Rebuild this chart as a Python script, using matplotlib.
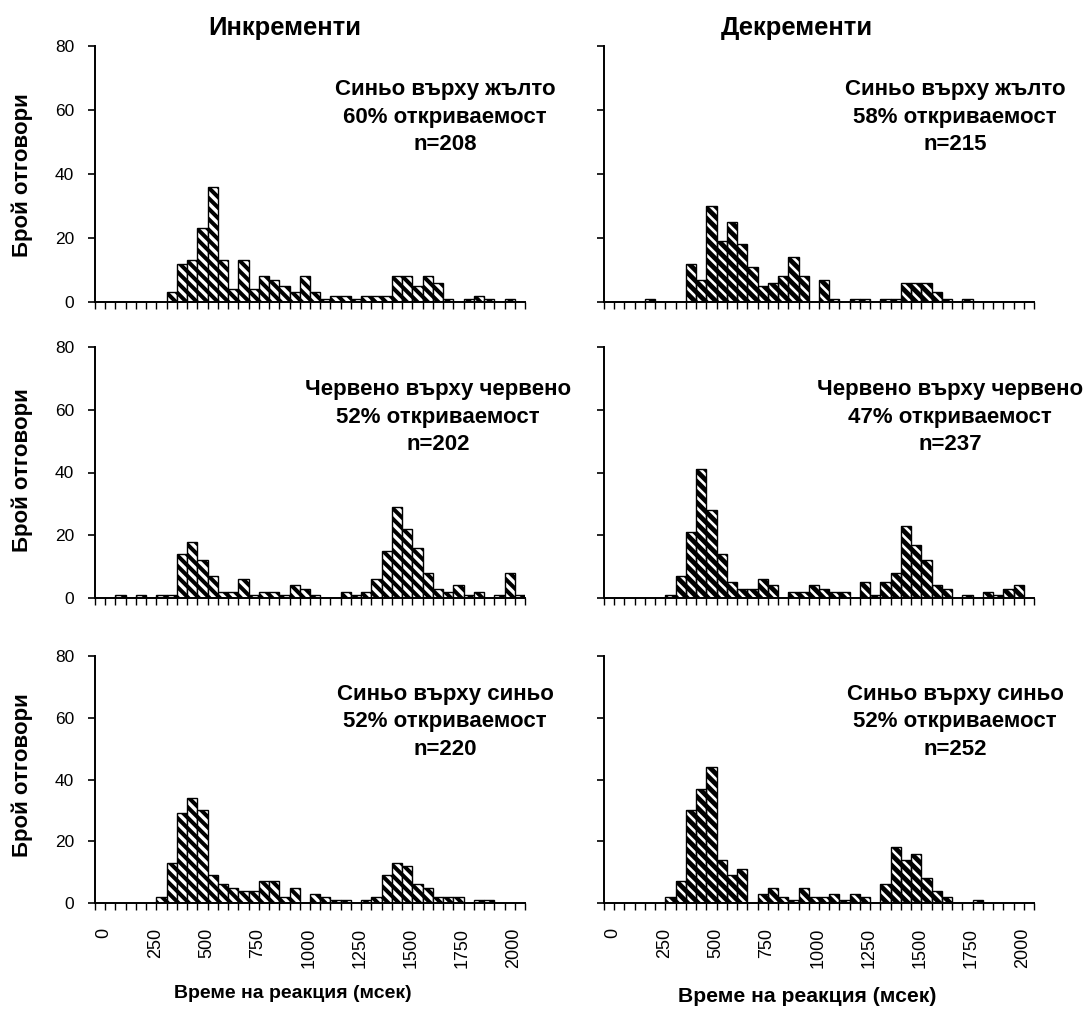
import matplotlib.pyplot as plt
import matplotlib.transforms as mtransforms
import numpy as np

DPI = 126
S = 100 / DPI  # sizes below are written for 100 dpi, scaled to the real dpi

plt.rcParams['font.family'] = ['Liberation Sans', 'DejaVu Sans']
plt.rcParams['hatch.linewidth'] = 2.3

# bins of 50 ms: 0, 50, ..., 2000, 2050 (42 categories)
bin_starts = list(range(0, 2051, 50))
tick_labels = ['0', '250', '500', '750', '1000', '1250', '1500', '1750', '2000']

# Инкременти
inc_blue_yellow = [0, 0, 0, 0, 0, 0, 0, 3, 12, 13, 23, 36, 13, 4, 13, 4, 8, 7, 5, 3, 8,
                   3, 1, 2, 2, 1, 2, 2, 2, 8, 8, 5, 8, 6, 1, 0, 1, 2, 1, 0, 1, 0]
inc_red_red = [0, 0, 1, 0, 1, 0, 1, 1, 14, 18, 12, 7, 2, 2, 6, 1, 2, 2, 1, 4, 3,
               1, 0, 0, 2, 1, 2, 6, 15, 29, 22, 16, 8, 3, 2, 4, 1, 2, 0, 1, 8, 1]
inc_blue_blue = [0, 0, 0, 0, 0, 0, 2, 13, 29, 34, 30, 9, 6, 5, 4, 4, 7, 7, 2, 5, 0,
                 3, 2, 1, 1, 0, 1, 2, 9, 13, 12, 6, 5, 2, 2, 2, 0, 1, 1, 0, 0, 0]

# Декременти
dec_blue_yellow = [0, 0, 0, 0, 1, 0, 0, 0, 12, 7, 30, 19, 25, 18, 11, 5, 6, 8, 14, 8, 0,
                   7, 1, 0, 1, 1, 0, 1, 1, 6, 6, 6, 3, 1, 0, 1, 0, 0, 0, 0, 0, 0]
dec_red_red = [0, 0, 0, 0, 0, 0, 1, 7, 21, 41, 28, 14, 5, 3, 3, 6, 4, 0, 2, 2, 4,
               3, 2, 2, 0, 5, 1, 5, 8, 23, 17, 12, 4, 3, 0, 1, 0, 2, 1, 3, 4, 0]
dec_blue_blue = [0, 0, 0, 0, 0, 0, 2, 7, 30, 37, 44, 14, 9, 11, 0, 3, 5, 2, 1, 5, 2,
                 2, 3, 1, 3, 2, 0, 6, 18, 14, 16, 8, 4, 2, 0, 0, 1, 0, 0, 0, 0, 0]

notes = [
    ("Синьо върху жълто\n60% откриваемост\nn=208", "Синьо върху жълто\n58% откриваемост\nn=215"),
    ("Червено върху червено\n52% откриваемост\nn=202", "Червено върху червено\n47% откриваемост\nn=237"),
    ("Синьо върху синьо\n52% откриваемост\nn=220", "Синьо върху синьо\n52% откриваемост\nn=252"),
]
rows = [(inc_blue_yellow, dec_blue_yellow),
        (inc_red_red, dec_red_red),
        (inc_blue_blue, dec_blue_blue)]

W, H = 1087, 1009
fig = plt.figure(figsize=(W / DPI, H / DPI), dpi=DPI)

def px(x, y):
    return x / W, 1 - y / H

col_left = [95, 604]
col_width = 430
row_tb = [(46, 302), (347, 598), (656, 903)]
note_pos = [[(445, 117), (955, 117)],
            [(438, 417), (950, 417)],
            [(445, 722), (955, 722)]]
ylabel_y = [175, 470, 775]

x = np.arange(len(bin_starts))
label_shift = mtransforms.ScaledTranslation(4 / DPI, 0, fig.dpi_scale_trans)

for r, (top, bot) in enumerate(row_tb):
    for c in range(2):
        vals = rows[r][c]
        ax = fig.add_axes([col_left[c] / W, 1 - bot / H, col_width / W, (bot - top) / H])
        if c == 0:
            bars = ax.bar(x, vals, width=1, facecolor='white', edgecolor='black',
                          hatch='\\\\\\\\', linewidth=1.0 * S)
        else:
            bars = ax.bar(x, vals, width=1, facecolor='black', edgecolor='white',
                          hatch='\\\\\\\\', linewidth=0)
            for b in bars:
                if hasattr(b, 'set_hatch_linewidth'):
                    b.set_hatch_linewidth(1.5)
            ax.bar(x, vals, width=1, fill=False, edgecolor='black', linewidth=1.0 * S)

        ax.set_xlim(-0.5, len(bin_starts) - 0.5)
        ax.set_ylim(0, 80)
        ax.spines['top'].set_visible(False)
        ax.spines['right'].set_visible(False)
        ax.spines['left'].set_linewidth(1.4 * S)
        ax.spines['bottom'].set_linewidth(1.4 * S)

        ax.set_yticks([0, 20, 40, 60, 80])
        ax.tick_params(axis='y', direction='out', length=5 * S, width=1.2 * S,
                       labelsize=12.5 * S, pad=10 * S, labelleft=(c == 0))

        ax.set_xticks(np.arange(0, 41, 5))
        ax.set_xticks(np.arange(-0.5, len(bin_starts), 1), minor=True)
        ax.tick_params(axis='x', which='minor', direction='out', length=5 * S, width=1.0 * S)
        ax.tick_params(axis='x', which='major', length=0, pad=18 * S)
        if r == 2:
            ax.set_xticklabels(tick_labels, rotation=90, fontsize=13 * S)
            for lab in ax.get_xticklabels():
                lab.set_transform(lab.get_transform() + label_shift)
        else:
            ax.set_xticklabels([])

        nx, ny = px(*note_pos[r][c])
        fig.text(nx, ny, notes[r][c], ha='center', va='center', fontsize=16 * S,
                 fontweight='bold', linespacing=1.38)

    fig.text(*px(22, ylabel_y[r]), "Брой отговори", rotation=90, ha='center',
             va='center', fontsize=16 * S, fontweight='bold')

fig.text(*px(285, 28), "Инкременти", ha='center', va='center', fontsize=18.5 * S, fontweight='bold')
fig.text(*px(797, 28), "Декременти", ha='center', va='center', fontsize=18.5 * S, fontweight='bold')
fig.text(*px(293, 994), "Време на реакция (мсек)", ha='center', va='center',
         fontsize=14 * S, fontweight='bold')
fig.text(*px(807, 996), "Време на реакция (мсек)", ha='center', va='center',
         fontsize=15.2 * S, fontweight='bold')

fig.savefig('out.png', dpi=DPI)
